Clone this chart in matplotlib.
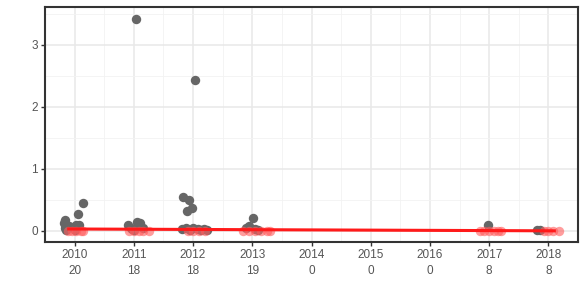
import matplotlib
matplotlib.use("Agg")
import matplotlib.pyplot as plt
import numpy as np

plt.rcParams['font.family'] = ['Liberation Sans', 'DejaVu Sans']

# observed values (grey), jittered along the year axis
obs_year = [2009.84, 2009.82, 2009.83, 2009.86, 2009.90, 2010.05, 2010.03, 2010.07, 2010.15, 2010.00,
            2011.03, 2010.90, 2010.95, 2011.00, 2011.05, 2011.10, 2011.15, 2011.08, 2010.97,
            2012.03, 2011.83, 2011.93, 2011.90, 2011.98, 2011.82, 2011.88, 2011.95, 2012.00,
            2012.08, 2012.13, 2012.18, 2012.24,
            2013.02, 2012.90, 2012.95, 2013.05, 2013.10,
            2016.98, 2017.80, 2017.86]
obs_val = [0.18, 0.12, 0.05, 0.02, 0.07, 0.27, 0.10, 0.10, 0.45, 0.02,
           3.42, 0.10, 0.05, 0.02, 0.15, 0.12, 0.05, 0.08, 0.03,
           2.43, 0.55, 0.50, 0.32, 0.37, 0.03, 0.04, 0.02, 0.05,
           0.03, 0.02, 0.03, 0.02,
           0.20, 0.05, 0.08, 0.03, 0.02,
           0.10, 0.02, 0.01]

# predicted values (light red)
pred_year = [2009.88, 2009.95, 2010.02, 2010.10, 2010.15,
             2010.92, 2011.00, 2011.08, 2011.15, 2011.25,
             2011.92, 2012.00, 2012.10, 2012.20,
             2012.85, 2012.95, 2013.05, 2013.15, 2013.25, 2013.30,
             2016.85, 2016.92, 2017.00, 2017.08, 2017.15, 2017.20,
             2017.92, 2018.00, 2018.08, 2018.18]
pred_val = [0.0] * len(pred_year)

# fitted trend line
fit_year = [2009.9, 2018.1]
fit_val = [0.03, 0.0]

years = list(range(2010, 2019))
counts = [20, 18, 18, 19, 0, 0, 0, 8, 8]
tick_labels = [f"{y}\n{n}" for y, n in zip(years, counts)]

fig = plt.figure(figsize=(5.83, 2.91), dpi=100)
ax = fig.add_axes([45 / 583, 49 / 291, 533 / 583, 235 / 291])

ax.scatter(obs_year, obs_val, s=46, color='#666666', zorder=3, linewidths=0)
ax.scatter(pred_year, pred_val, s=46, color='#ff5c5c', alpha=0.6, zorder=4, linewidths=0)
ax.plot(fit_year, fit_val, color='#ff1a1a', lw=2.2, zorder=5)

ax.set_xlim(2009.59, 2018.4)
ax.set_ylim(-0.18, 3.61)
ax.set_xticks(years)
ax.set_xticklabels(tick_labels, linespacing=1.5)
ax.set_xticks(np.arange(2009.5, 2018.6, 1.0), minor=True)
ax.set_yticks([0, 1, 2, 3])
ax.set_yticks([0.5, 1.5, 2.5, 3.5], minor=True)

ax.grid(True, which='major', color='#e8e8e8', lw=1.1, zorder=0)
ax.grid(True, which='minor', color='#f2f2f2', lw=0.6, zorder=0)
ax.set_axisbelow(True)

ax.tick_params(which='major', length=3, width=1, color='#333333',
               labelsize=8.5, labelcolor='#555555', pad=2)
ax.tick_params(which='minor', length=0)
for sp in ax.spines.values():
    sp.set_color('#333333')
    sp.set_linewidth(1.5)

fig.savefig('out.png', dpi=100)
